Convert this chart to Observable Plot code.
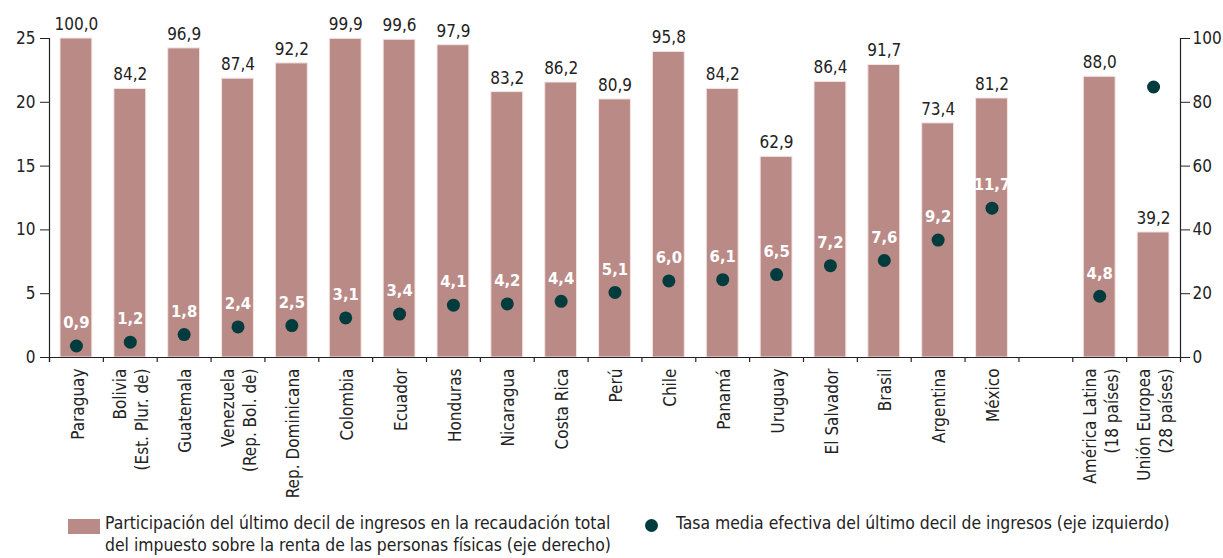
<!DOCTYPE html>
<html><head><meta charset="utf-8">
<script src="https://cdn.jsdelivr.net/npm/d3@7"></script>
<script src="https://cdn.jsdelivr.net/npm/@observablehq/plot@0.6"></script>
<style>
body{margin:0;background:#fff;}
#wrap{position:relative;width:1223px;height:558px;font-family:"Liberation Sans Narrow","DejaVu Sans Condensed",sans-serif;color:#222;}
#chart svg{display:block;}
.leg{position:absolute;font-size:17.4px;line-height:22px;color:#222;white-space:nowrap;}
.sw{position:absolute;}
</style></head><body>
<div id="wrap">
<div id="chart"></div>
<div class="sw" style="left:68px;top:519px;width:32px;height:15px;background:#ba8a87;"></div>
<div class="leg" style="left:105px;top:512px;">Participación del último decil de ingresos en la recaudación total<br>del impuesto sobre la renta de las personas físicas (eje derecho)</div>
<div class="sw" style="left:645px;top:519px;width:13px;height:13px;border-radius:50%;background:#003b3d;"></div>
<div class="leg" style="left:676px;top:512px;">Tasa media efectiva del último decil de ingresos (eje izquierdo)</div>
</div>
<script>
const countries = ["Paraguay","Bolivia\n(Est. Plur. de)","Guatemala","Venezuela\n(Rep. Bol. de)","Rep. Dominicana","Colombia","Ecuador","Honduras","Nicaragua","Costa Rica","Perú","Chile","Panamá","Uruguay","El Salvador","Brasil","Argentina","México","América Latina\n(18 países)","Unión Europea\n(28 países)"];
const shareTopDecile = [100.0,84.2,96.9,87.4,92.2,99.9,99.6,97.9,83.2,86.2,80.9,95.8,84.2,62.9,86.4,91.7,73.4,81.2,88.0,39.2];
const rateTopDecile = [0.9,1.2,1.8,2.4,2.5,3.1,3.4,4.1,4.2,4.4,5.1,6.0,6.1,6.5,7.2,7.6,9.2,11.7,4.8,21.2];
const leftTicks = [0,5,10,15,20,25];
const rightTicks = [0,20,40,60,80,100];
const gap = " ";
const domain = [...countries.slice(0,18), gap, ...countries.slice(18)];

const data = countries.map((c,i)=>({name:c, share:shareTopDecile[i], rate:rateTopDecile[i]}));
const fmt = v => d3.format(".1f")(v).replace(".", ",");
const W = 1223, H = 510, mL = 49, mR = 43, mT = 38, mB = 153;
const bw = (W - mL - mR) / domain.length;
const font = '"Liberation Sans Narrow","DejaVu Sans Condensed",sans-serif';

const chart = Plot.plot({
  width: W, height: H,
  marginLeft: mL, marginRight: mR, marginTop: mT, marginBottom: mB,
  style: {fontFamily: font, fontSize: "17px", color: "#222", background: "#fff", overflow: "visible"},
  x: {type: "band", domain, padding: 0, round: false, axis: null},
  y: {domain: [0,25], axis: null},
  marks: [
    Plot.barY(data, {x: "name", y: d => d.share/4, fill: "#ba8a87", stroke: "#f3e6e5", strokeWidth: 1, insetLeft: 11, insetRight: 11}),
    Plot.ruleY([0], {stroke: "#222", strokeWidth: 1.2}),
    Plot.ruleX(domain, {x: d => d, dx: -bw/2, y1: 0, y2: -0.4, stroke: "#222", strokeWidth: 1.2}),
    Plot.ruleX([domain[0]], {x: d => d, dx: -bw/2, y1: -0.4, y2: 25, stroke: "#222", strokeWidth: 1.2}),
    Plot.ruleX([domain[domain.length-1]], {x: d => d, dx: bw/2, y1: -0.4, y2: 25, stroke: "#222", strokeWidth: 1.2}),
    Plot.axisY({anchor: "left", ticks: leftTicks, tickSize: 9, tickPadding: 5, tickFormat: d => d, fontSize: 17, label: null, stroke: "#222"}),
    Plot.axisY({anchor: "right", ticks: rightTicks.map(v => v/4), tickSize: 9, tickPadding: 3, tickFormat: d => String(d*4), fontSize: 17, label: null, stroke: "#222"}),
    Plot.text(data, {x: "name", y: d => d.share/4, text: d => fmt(d.share), dy: -14, fontSize: 17, fill: "#222"}),
    Plot.dot(data, {x: "name", y: "rate", r: 6.5, fill: "#003b3d"}),
    Plot.text(data, {x: "name", y: "rate", text: d => fmt(d.rate), dy: -23, fontSize: 16.5, fontWeight: "bold", fill: "#fff"}),
    Plot.text(countries, {x: d => d, text: d => d, frameAnchor: "bottom", rotate: -90, textAnchor: "end", lineAnchor: "middle", lineHeight: 1.3, dy: 11, fontSize: 17, fill: "#222"})
  ]
});
document.getElementById("chart").appendChild(chart);
</script>
</body></html>
